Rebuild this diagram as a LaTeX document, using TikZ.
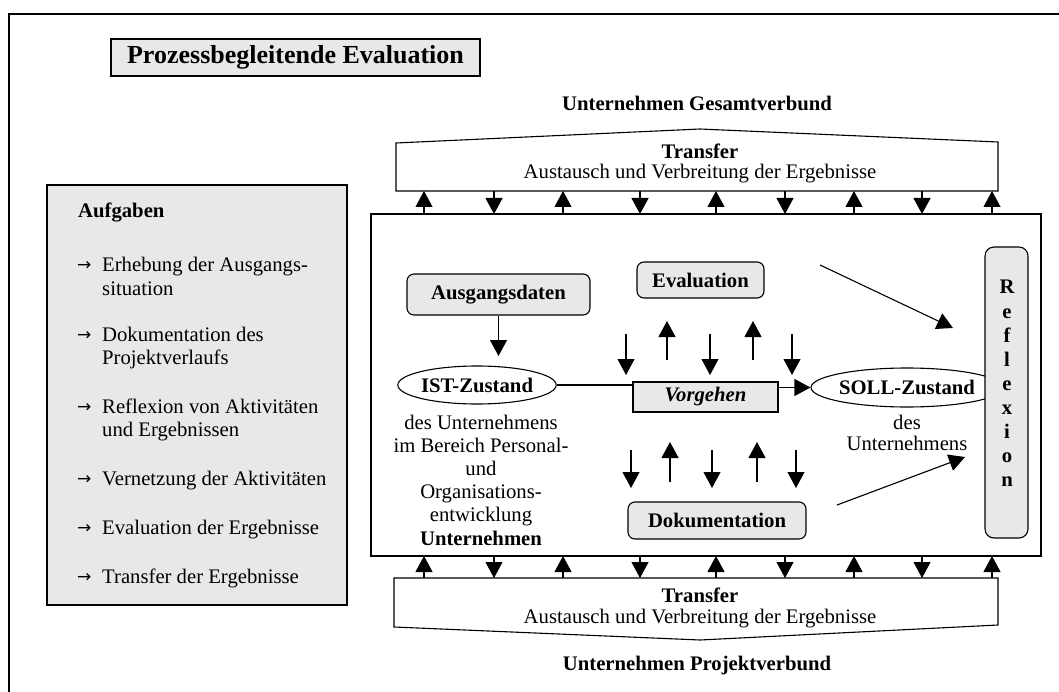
\documentclass[tikz,border=0pt]{standalone}
\usepackage{fontspec}
\setmainfont{Liberation Serif}
\newfontfamily\arrowfont{DejaVu Sans}
\usetikzlibrary{shapes.geometric,arrows.meta}
\definecolor{boxgray}{RGB}{232,232,232}
\begin{document}
\begin{tikzpicture}[x=1pt,y=-1pt,
  txt/.style={font=\fontsize{20.7}{23}\selectfont, inner sep=0pt},
  txtb/.style={font=\bfseries\fontsize{20.7}{23}\selectfont, inner sep=0pt},
  ln/.style={line width=1.1pt},
  ar/.style={line width=1.1pt,-{Triangle[width=17pt,length=16pt]}},
  rbox/.style={draw, fill=boxgray, line width=1.1pt, rounded corners=7pt, inner sep=0pt, font=\bfseries\fontsize{20.7}{23}\selectfont},
  sbox/.style={draw, fill=boxgray, line width=1.1pt, inner sep=0pt},
  ell/.style={draw, ellipse, line width=1.1pt, inner sep=0pt, font=\bfseries\fontsize{20.7}{23}\selectfont}
]
\useasboundingbox (0,0) rectangle (1059,692);
% outer frame (cropped)
\draw[line width=1.5pt] (9,692) -- (9,14) -- (1059,14);

% title
\node[sbox, minimum width=369pt, minimum height=37pt, font=\bfseries\fontsize{26}{30}\selectfont] (title) at (295.5,57.5) {Prozessbegleitende Evaluation};

% left panel
\node[sbox, minimum width=300pt, minimum height=420pt] (aufg) at (197,395) {};
\node[txtb, anchor=base west] (l0) at (78,218) {Aufgaben};
\foreach \yy/\t [count=\i] in {272/Erhebung der Ausgangs-, 341/Dokumentation des, 413/Reflexion von Aktivitäten, 485/Vernetzung der Aktivitäten, 534/Evaluation der Ergebnisse, 583/Transfer der Ergebnisse}{
  \node[font=\arrowfont\fontsize{17}{20}\selectfont, inner sep=0pt, anchor=base west] (arr\i) at (77,{\yy-1}) {→};
  \node[txt, anchor=base west] (it\i) at (102,\yy) {\t};
}
\node[txt, anchor=base west] (it1b) at (102,295) {situation};
\node[txt, anchor=base west] (it2b) at (102,364) {Projektverlaufs};
\node[txt, anchor=base west] (it3b) at (102,436) {und Ergebnissen};

% top labels and transfer
\node[txtb] (gesamt) at (697,103) {Unternehmen Gesamtverbund};
\draw[ln] (396,191) -- (396,143) -- (700,129) -- (998,142) -- (998,191) -- cycle;
\node[txtb] (ttop) at (700,151) {Transfer};
\node[txt] (atop) at (700,174) {Austausch und Verbreitung der Ergebnisse};

% main box
\node[draw, line width=1.1pt, minimum width=670pt, minimum height=342pt, inner sep=0pt] (main) at (706,385) {};

% bottom transfer
\draw[ln] (394,578) -- (998,578) -- (998,625) -- (700,640) -- (394,627) -- cycle;
\node[txtb] (tbot) at (700,595) {Transfer};
\node[txt] (abot) at (700,619) {Austausch und Verbreitung der Ergebnisse};
\node[txtb] (projekt) at (697,666) {Unternehmen Projektverbund};

% exchange arrows
\foreach \x [count=\i] in {424,494,563,640,716,785,854,922,992}{
  \coordinate (ta\i) at (\x,191);
  \coordinate (tb\i) at (\x,214);
  \coordinate (ba\i) at (\x,556);
  \coordinate (bb\i) at (\x,578);
  \ifodd\i
    \draw[ar] (tb\i) -- (ta\i);
    \draw[ar] (bb\i) -- (ba\i);
  \else
    \draw[ar] (ta\i) -- (tb\i);
    \draw[ar] (ba\i) -- (bb\i);
  \fi
}

% inner nodes
\node[rbox, minimum width=183pt, minimum height=41pt] (ausg) at (498.5,294.5) {Ausgangsdaten};
\node[ell, minimum width=148pt, minimum height=38pt] (ist) at (477,385) {IST-Zustand};
\coordinate (istin) at (498.5,356);
\draw[ar] (ausg.south) -- (istin);

\node[sbox, minimum width=145pt, minimum height=30pt, font=\bfseries\itshape\fontsize{20.7}{23}\selectfont] (vorg) at (705.5,397) {Vorgehen};
\node[ell, minimum width=150pt, minimum height=39pt] (soll) at (907,387.5) {SOLL-Zustand};
\draw[ln] (ist.east) -- (ist.east -| vorg.west);
\draw[ar] (soll.west -| vorg.east) -- (soll.west);

\node[rbox, minimum width=127pt, minimum height=36pt] (eval) at (700.5,280) {Evaluation};
\node[rbox, minimum width=178pt, minimum height=37pt] (doku) at (717,520.5) {Dokumentation};
\node[rbox, minimum width=43pt, minimum height=291pt, rounded corners=9pt] (refl) at (1006.5,392.5) {};
\foreach \c [count=\i] in {R,e,f,l,e,x,i,o,n}{
  \node[txtb, anchor=base] (rl\i) at (1007,{294+24.1*(\i-1)}) {\c};
}

% IST description
\foreach \t [count=\i] in {des Unternehmens, im Bereich Personal-, und, Organisations-, entwicklung}{
  \node[txt, anchor=base] (istd\i) at (481,{429+23.2*(\i-1)}) {\t};
}
\node[txtb, anchor=base] (istu) at (481,545) {Unternehmen};

% SOLL description
\node[txt, anchor=base] (solld1) at (907,429) {des};
\node[txt, anchor=base] (solld2) at (907,450) {Unternehmens};

% diagonal arrows to Reflexion
\coordinate (d1s) at (820,265);
\coordinate (d1e) at (953,328);
\coordinate (d2s) at (837,505);
\coordinate (d2e) at (965,457);
\draw[ar] (d1s) -- (d1e);
\draw[ar] (d2s) -- (d2e);

% small vertical arrows
\foreach \x/\d [count=\i] in {626/d,667/u,710/d,753/u,792/d}{
  \coordinate (ua\i) at (\x,334);
  \coordinate (ub\i) at (\x,375);
  \coordinate (uc\i) at (\x,360);
  \coordinate (ud\i) at (\x,321);
  \if\d d
    \draw[ar] (ua\i) -- (ub\i);
  \else
    \draw[ar] (uc\i) -- (ud\i);
  \fi
}
\foreach \x/\d [count=\i] in {631/d,670/u,712/d,757/u,796/d}{
  \coordinate (la\i) at (\x,450);
  \coordinate (lb\i) at (\x,488);
  \coordinate (lc\i) at (\x,482);
  \coordinate (ld\i) at (\x,442);
  \if\d d
    \draw[ar] (la\i) -- (lb\i);
  \else
    \draw[ar] (lc\i) -- (ld\i);
  \fi
}
\end{tikzpicture}
\end{document}
